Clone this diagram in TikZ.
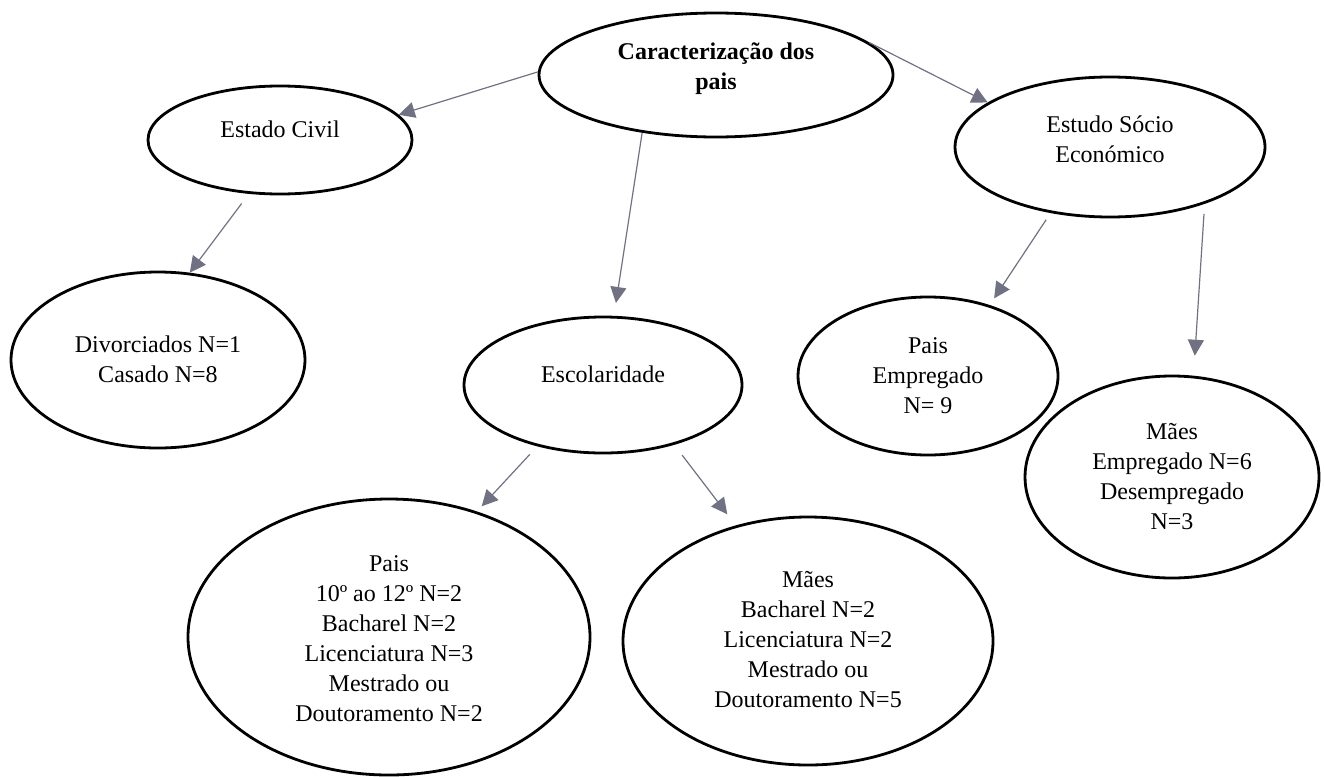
\documentclass[tikz,border=0pt]{standalone}
\usepackage{fontspec}
\setmainfont{Liberation Serif}
\usetikzlibrary{arrows.meta,shapes.geometric}
\definecolor{arrowgray}{RGB}{112,114,132}
\tikzset{
  bubble/.style={draw, ellipse, line width=1.4pt, inner sep=0pt},
  caption/.style={align=center, inner sep=0pt, font=\fontsize{12pt}{15pt}\selectfont},
  title/.style={caption, font=\fontsize{12pt}{15pt}\selectfont\bfseries},
  link/.style={draw=arrowgray, line width=0.6pt, -{Triangle[length=8pt,width=8pt]}}
}
\begin{document}
\begin{tikzpicture}[x=0.5pt,y=-0.5pt]
  \useasboundingbox (0,0) rectangle (1325,776);
  % ellipses
  \node[bubble, minimum width=177pt, minimum height=62pt] (pais) at (716,75) {};
  \node[bubble, minimum width=132pt, minimum height=54pt] (civil) at (280,140) {};
  \node[bubble, minimum width=155pt, minimum height=70pt] (socio) at (1110,147) {};
  \node[bubble, minimum width=147pt, minimum height=88pt] (estado) at (158,360) {};
  \node[bubble, minimum width=139pt, minimum height=68pt] (escola) at (603,385) {};
  \node[bubble, minimum width=130pt, minimum height=79pt] (paiemp) at (928,376) {};
  \node[bubble, minimum width=147pt, minimum height=101pt] (maeemp) at (1172,477) {};
  \node[bubble, minimum width=201pt, minimum height=138pt] (paiesc) at (389,637) {};
  \node[bubble, minimum width=185pt, minimum height=124pt] (maeesc) at (808,641) {};
  % texts
  \node[title] (paistxt) at (716,69) {Caracterização dos\\pais};
  \node[caption] (civiltxt) at (280,129) {Estado Civil};
  \node[caption] (sociotxt) at (1110,139) {Estudo Sócio\\Económico};
  \node[caption] (estadotxt) at (158,359) {Divorciados N=1\\Casado N=8};
  \node[caption] (escolatxt) at (603,374) {Escolaridade};
  \node[caption] (paiemptxt) at (928,376) {Pais\\Empregado\\N= 9};
  \node[caption] (maeemptxt) at (1172,477) {Mães\\Empregado N=6\\Desempregado\\N=3};
  \node[caption] (paiesctxt) at (389,639) {Pais\\10º ao 12º N=2\\Bacharel N=2\\Licenciatura N=3\\Mestrado ou\\Doutoramento N=2};
  \node[caption] (maeesctxt) at (808,640) {Mães\\Bacharel N=2\\Licenciatura N=2\\Mestrado ou\\Doutoramento N=5};
  % arrows
  \draw[link] (pais.179) -- (civil.12);
  \draw[link, shorten >=6.5pt] (pais.218) -- (escola.81);
  \draw[link] (pais.12) -- (socio.160);
  \draw[link, shorten <=6pt] (civil.240) -- (estado.70);
  \draw[link, shorten <=5.5pt, shorten >=3.5pt] (escola.223) -- (paiesc.55);
  \draw[link, shorten <=6.5pt, shorten >=7pt] (escola.320) -- (maeesc.122);
  \draw[link, shorten <=4pt, shorten >=4pt] (socio.228) -- (paiemp.49);
  \draw[link, shorten <=5pt, shorten >=10pt] (socio.329) -- (maeemp.78);
\end{tikzpicture}
\end{document}
